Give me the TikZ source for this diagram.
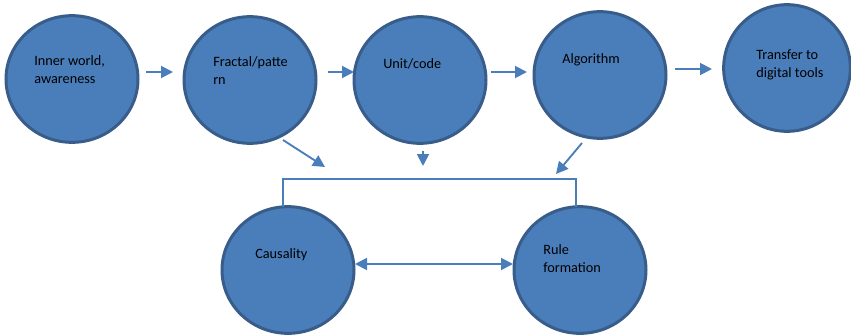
\documentclass[tikz,border=0pt]{standalone}
\usepackage{fontspec}
\setmainfont{Carlito}
\usetikzlibrary{shapes.geometric,arrows.meta}
\definecolor{cfill}{HTML}{4A7EBB}
\definecolor{cline}{HTML}{385D8A}
\definecolor{arr}{HTML}{4A7EBB}
\tikzset{
  bubble/.style={ellipse,draw=cline,fill=cfill,line width=2.25pt,minimum width=99pt,minimum height=95pt,inner sep=0pt},
  lbl/.style={anchor=base west,align=left,inner sep=0pt,font=\fontsize{10.7pt}{12.8pt}\selectfont,text=black},
  flow/.style={draw=arr,line width=1.4pt,-{Triangle[length=9pt,width=9pt]}},
  flowboth/.style={draw=arr,line width=1.4pt,{Triangle[length=9pt,width=9pt]}-{Triangle[length=9pt,width=9pt]}},
  bracket/.style={draw=arr,line width=1.2pt}
}
\begin{document}
\begin{tikzpicture}[x=0.75pt,y=-0.75pt]
\useasboundingbox (0,0) rectangle (851,336);
% circles
\node[bubble] (inner) at (72,79) {};
\node[bubble] (fract) at (250,80) {};
\node[bubble] (unit) at (420,80) {};
\node[bubble] (algo) at (600,75) {};
\node[bubble,minimum width=95pt] (trans) at (787,68) {};
\node[bubble] (caus) at (288,270) {};
\node[bubble] (rule) at (580,270) {};
% labels (anchor = baseline of the last line)
\node[lbl] (tinner) at (34,83) {Inner world,\\awareness};
\node[lbl] (tfract) at (213,84) {Fractal/patte\\rn};
\node[lbl] (tunit) at (383,68) {Unit/code};
\node[lbl] (talgo) at (562,63) {Algorithm};
\node[lbl] (ttrans) at (756,77) {Transfer to\\digital tools};
\node[lbl] (tcaus) at (255,258) {Causality};
\node[lbl] (trule) at (543,272) {Rule\\formation};
% arrow end points
\coordinate (a1s) at (146,72); \coordinate (a1e) at (173,72);
\coordinate (a2s) at (328,72); \coordinate (a2e) at (354,72);
\coordinate (a3s) at (491,72); \coordinate (a3e) at (527,72);
\coordinate (a4s) at (675,69); \coordinate (a4e) at (712,69);
\coordinate (d1s) at (283,140); \coordinate (d1e) at (325,167);
\coordinate (d2s) at (423,151); \coordinate (d2e) at (423,166);
\coordinate (d3s) at (582,143); \coordinate (d3e) at (556,174);
\coordinate (bl) at (283,207); \coordinate (blt) at (283,179);
\coordinate (br) at (576,207); \coordinate (brt) at (576,179);
\coordinate (hs) at (355,264); \coordinate (he) at (513,264);
% connectors
\draw[flow] (a1s) -- (a1e);
\draw[flow] (a2s) -- (a2e);
\draw[flow] (a3s) -- (a3e);
\draw[flow] (a4s) -- (a4e);
\draw[flow] (d1s) -- (d1e);
\draw[flow] (d2s) -- (d2e);
\draw[flow] (d3s) -- (d3e);
\draw[bracket] (bl) -- (blt) -- (brt) -- (br);
\draw[flowboth] (hs) -- (he);
\end{tikzpicture}
\end{document}
